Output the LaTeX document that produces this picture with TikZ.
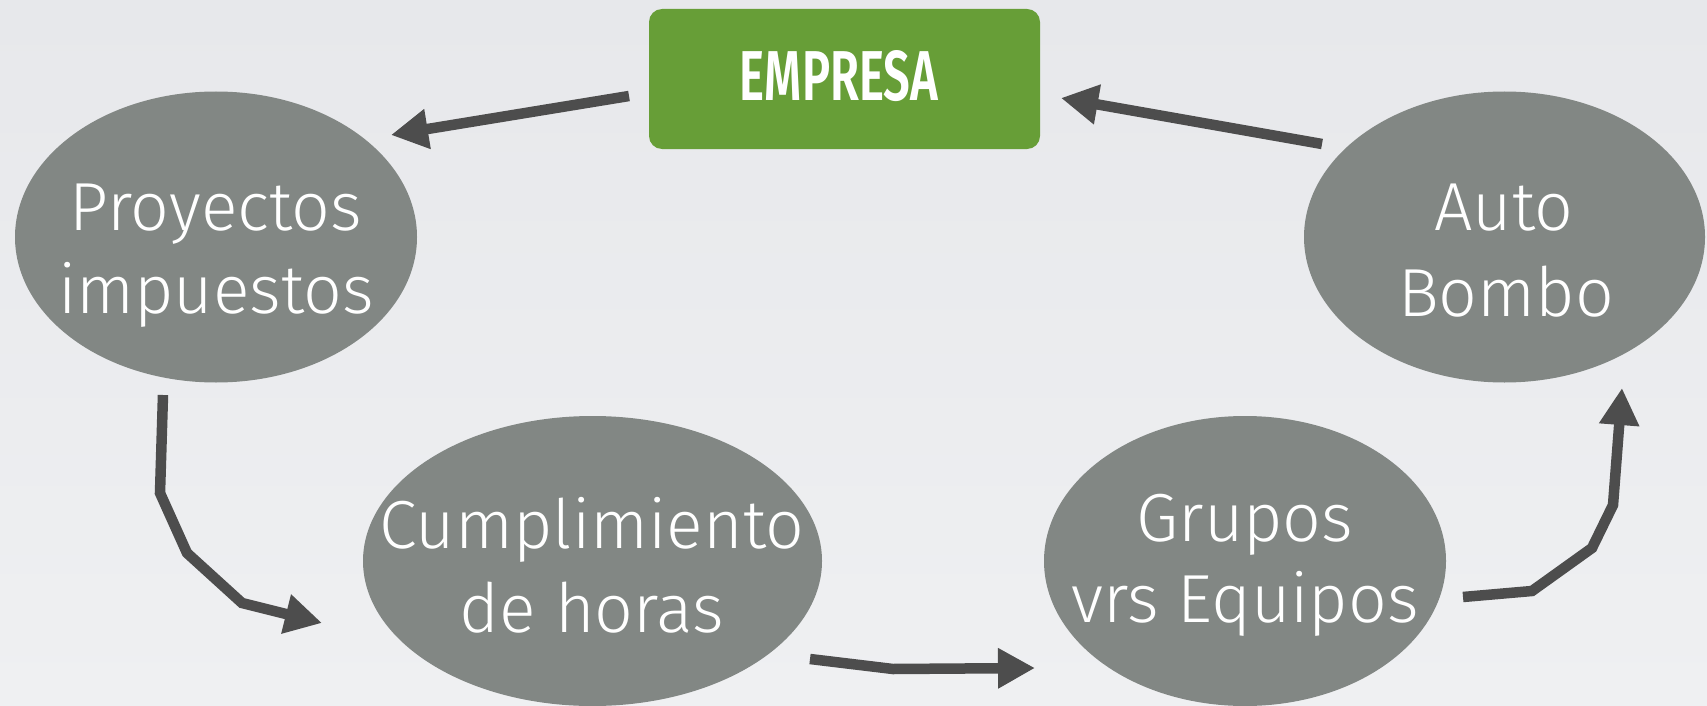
\documentclass[tikz,border=0pt]{standalone}
\usepackage{fontspec}
\setmainfont{Fira Sans}[UprightFont=* Light, BoldFont=* SemiBold]
\usetikzlibrary{shapes.geometric,arrows.meta}
\definecolor{bgtop}{HTML}{E7E8EB}
\definecolor{bgbot}{HTML}{EFF0F2}
\definecolor{ellgray}{HTML}{828784}
\definecolor{empgreen}{HTML}{679E37}
\definecolor{arrgray}{HTML}{4D4D4D}
\tikzset{
  ell/.style={ellipse, fill=ellgray, draw=none, inner sep=0pt},
  lbl/.style={text=white, anchor=base, inner sep=0pt, font=\fontsize{68}{84}\selectfont},
  conn/.style={draw=arrgray, line width=10.5pt, line join=miter, -{Triangle[length=37pt,width=38pt]}},
  empbox/.style={rectangle, rounded corners=13pt, fill=empgreen, draw=none, inner sep=0pt, minimum width=391pt, minimum height=140pt}
}
\begin{document}
\begin{tikzpicture}[x=1pt,y=-1pt]
\useasboundingbox (0,0) rectangle (1707,706);
\shade[top color=bgtop, bottom color=bgbot] (0,0) rectangle (1707,706);

% nodes
\node[empbox] (emp) at (844.5,79) {};
\node[text=white, inner sep=0pt, anchor=base] (empt) at (839,100) {\resizebox{198pt}{50pt}{\bfseries EMPRESA}};

\node[ell, minimum width=402pt, minimum height=291pt] (proy) at (216,237) {};
\node[lbl] (proy1) at (216,230) {Proyectos};
\node[lbl] (proy2) at (216,313) {impuestos};

\node[ell, minimum width=401pt, minimum height=291pt] (auto) at (1504.5,237) {};
\node[lbl] (auto1) at (1504,230) {Auto};
\node[lbl] (auto2) at (1506,316) {Bombo};

\node[ell, minimum width=459pt, minimum height=290pt] (cump) at (592.5,561) {};
\node[lbl] (cump1) at (592,548) {Cumplimiento};
\node[lbl] (cump2) at (592,632) {de horas};

\node[ell, minimum width=402pt, minimum height=290pt] (grup) at (1245,561) {};
\node[lbl] (grup1) at (1245,541) {Grupos};
\node[lbl] (grup2) at (1245,622) {vrs Equipos};

% connector end points
\coordinate (a1s) at (629,96);
\coordinate (a1e) at (391,135);
\coordinate (a2s) at (1322,144);
\coordinate (a2e) at (1061,98);
\coordinate (a3s) at (163,395);
\coordinate (a3e) at (322,623);
\coordinate (a4s) at (810,659);
\coordinate (a4e) at (1035,668);
\coordinate (a5s) at (1463,597);
\coordinate (a5e) at (1622,388);

% connectors
\draw[conn] (a1s) -- (a1e);
\draw[conn] (a2s) -- (a2e);
\draw[conn] (a3s) -- (160,493) -- (187,553) -- (242,603) -- (a3e);
\draw[conn] (a4s) -- (893,669) -- (a4e);
\draw[conn] (a5s) -- (1532,591) -- (1592,548) -- (1613,505) -- (a5e);
\end{tikzpicture}
\end{document}
